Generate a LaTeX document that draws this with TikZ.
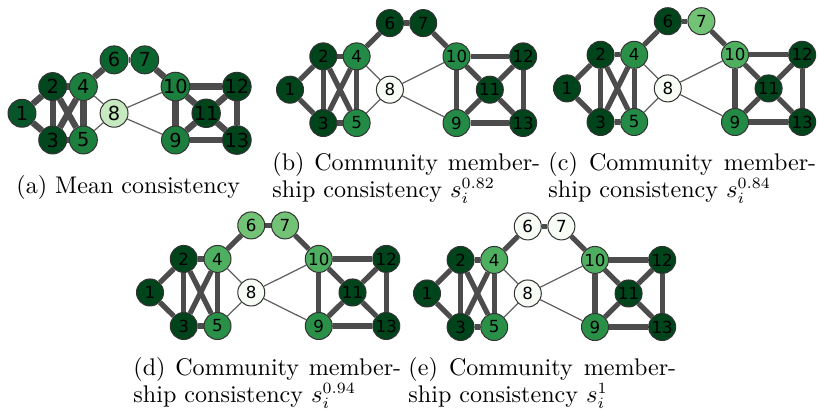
\documentclass[tikz,border=0pt]{standalone}
\usepackage{fontspec}
\newfontfamily\numfont{DejaVu Sans}
\usetikzlibrary{backgrounds}

\definecolor{gdark}{HTML}{00441B}
\definecolor{gaone}{HTML}{08552A}
\definecolor{gatwo}{HTML}{02481F}
\definecolor{gamid}{HTML}{1D7F3E}
\definecolor{gasix}{HTML}{0A652F}
\definecolor{gaeight}{HTML}{C7E9C0}
\definecolor{gmid}{HTML}{238B45}
\definecolor{gmidb}{HTML}{2A9048}
\definecolor{gten}{HTML}{4EAF61}
\definecolor{glight}{HTML}{72C375}
\definecolor{gwhite}{HTML}{F7FCF5}

\tikzset{
  vertex/.style={circle, draw=black!80, line width=0.45pt, minimum size=12pt,
    inner sep=0pt, font=\numfont\fontsize{7.4}{8}\selectfont},
  strong/.style={line width=2.3pt, draw=black!70},
  weak/.style={line width=0.55pt, draw=black!62},
  subcap/.style={anchor=north west, inner sep=0pt, text width=119pt, align=left,
    font=\fontsize{10.7}{10.8}\selectfont}
}

% one panel of the graph, #1 = name prefix, #2 = fill colours of 1..13
\newcommand{\consgraph}[2]{%
  \foreach \n/\gx/\gy in {1/0/1,2/1/2,3/1/0,4/2/2,5/2/0,6/3/3,7/4/3,8/3/1,
    9/5/0,10/5/2,11/6/1,12/7/2,13/7/0}
  {
    \pgfmathsetmacro{\c}{{#2}[\n-1]}
    \node[vertex, fill=\c] (#1\n) at (\gx,\gy) {\n};
  }
  \begin{pgfonlayer}{background}
    \foreach \u/\v in {1/2,1/3,2/3,2/4,2/5,3/4,3/5,4/5,4/6,6/7,7/10,
      9/10,9/11,9/13,10/11,10/12,11/12,11/13,12/13}
      \draw[strong] (#1\u) -- (#1\v);
    \foreach \u/\v in {4/8,5/8,8/9,8/10}
      \draw[weak] (#1\u) -- (#1\v);
  \end{pgfonlayer}
}

\begin{document}
\begin{tikzpicture}[x=0.4444pt, y=-0.4444pt]
  \useasboundingbox (0,0) rectangle (819,410);

  % (a) mean consistency
  \begin{scope}[shift={(22,140)}, x=13.64pt, y=11.87pt,
      vertex/.append style={minimum size=12.4pt, font=\numfont\fontsize{8.6}{9}\selectfont},
      strong/.append style={line width=2.8pt}]
    \consgraph{a}{"gaone","gatwo","gatwo","gamid","gamid","gasix","gasix",
      "gaeight","gamid","gamid","gdark","gdark","gdark"}
  \end{scope}
  % (b) s^0.82
  \begin{scope}[shift={(290,123)}, x=14.8pt, y=14.8pt]
    \consgraph{b}{"gdark","gdark","gdark","gmid","gmid","gdark","gdark",
      "gwhite","gmid","gmid","gdark","gdark","gdark"}
  \end{scope}
  % (c) s^0.84
  \begin{scope}[shift={(567,122)}, x=14.93pt, y=14.93pt]
    \consgraph{c}{"gdark","gdark","gdark","gmidb","gmid","gdark","glight",
      "gwhite","gmid","gten","gdark","gdark","gdark"}
  \end{scope}
  % (d) s^0.94
  \begin{scope}[shift={(150,326)}, x=15pt, y=14.9pt]
    \consgraph{d}{"gdark","gdark","gdark","gten","gmidb","glight","glight",
      "gwhite","gmidb","gten","gdark","gdark","gdark"}
  \end{scope}
  % (e) s^1
  \begin{scope}[shift={(427,327)}, x=14.93pt, y=14.9pt]
    \consgraph{e}{"gdark","gdark","gdark","gten","gmidb","gwhite","gwhite",
      "gwhite","gmidb","gten","gdark","gdark","gdark"}
  \end{scope}

  % captions
  \node[anchor=base west, inner sep=0pt, font=\fontsize{10.7}{10.8}\selectfont]
    (capa) at (16,194) {(a) Mean consistency};
  \node[subcap] (capb) at (272,152)
    {\hbox to 119pt{(b)\hfil\ Community\hfil\ member-}\\ship consistency $s_i^{0.82}$};
  \node[subcap] (capc) at (548,152)
    {\hbox to 119pt{(c)\hfil\ Community\hfil\ member-}\\ship consistency $s_i^{0.84}$};
  \node[subcap] (capd) at (133,357)
    {\hbox to 119pt{(d)\hfil\ Community\hfil\ member-}\\ship consistency $s_i^{0.94}$};
  \node[subcap] (cape) at (408,357)
    {\hbox to 119pt{(e)\hfil\ Community\hfil\ member-}\\ship consistency $s_i^{1}$};
\end{tikzpicture}
\end{document}
